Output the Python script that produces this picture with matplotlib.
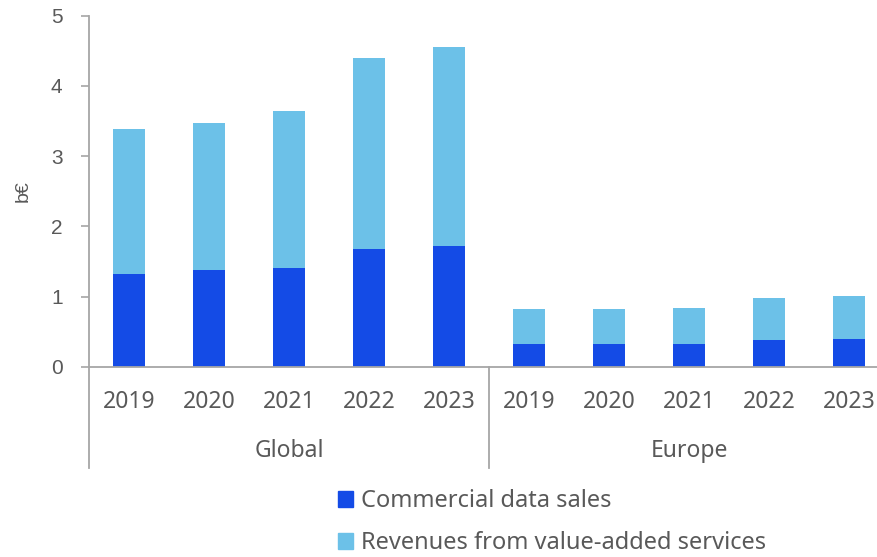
import matplotlib
matplotlib.use("Agg")
import matplotlib.pyplot as plt
from matplotlib.patches import Patch
from matplotlib.lines import Line2D
import numpy as np

years = ["2019", "2020", "2021", "2022", "2023"]
regions = ["Global", "Europe"]
commercial_global = [1.32, 1.38, 1.40, 1.68, 1.72]
value_added_global = [2.07, 2.09, 2.24, 2.72, 2.83]
commercial_europe = [0.32, 0.32, 0.33, 0.38, 0.39]
value_added_europe = [0.50, 0.50, 0.51, 0.60, 0.62]

dark = "#144BE6"
light = "#6CC1E8"
grey = "#A6A6A6"
text = "#595959"

W, H = 878, 557
fig = plt.figure(figsize=(W / 100, H / 100), dpi=100)
# plot area: x from 89px (10 slots of 80px), y zero at 366.7px, 5 at 15.7px
ax = fig.add_axes([89 / W, (H - 366.7) / H, 800 / W, 351 / H])

commercial = commercial_global + commercial_europe
value_added = value_added_global + value_added_europe
x = np.arange(len(commercial))
ax.bar(x, commercial, width=0.4, color=dark, zorder=2)
ax.bar(x, value_added, width=0.4, bottom=commercial, color=light, zorder=2)

ax.set_xlim(-0.5, 9.5)
ax.set_ylim(0, 5)
ax.set_yticks(range(6))
ax.tick_params(axis="y", direction="out", length=6, width=1.2, color=grey,
	pad=13, labelsize=15, labelcolor=text)
for lab in ax.get_yticklabels():
	lab.set_family("Liberation Sans")

ax.set_xticks(x)
ax.set_xticklabels(years * 2)
ax.tick_params(axis="x", length=0, pad=17, labelsize=16.5, labelcolor=text)
for lab in ax.get_xticklabels():
	lab.set_family("Noto Sans")

ax.set_ylabel("b\u20ac", fontsize=14, color=text, family="Liberation Sans",
	labelpad=14)

for s in ["top", "right"]:
	ax.spines[s].set_visible(False)
for s in ["left", "bottom"]:
	ax.spines[s].set_color(grey)
	ax.spines[s].set_linewidth(1.3)

# group divider lines under the axis
drop = -(468 - 366.7) / 351
trans = ax.get_xaxis_transform()
for xd in [-0.5, 4.5]:
	ax.add_line(Line2D([xd, xd], [0, drop], transform=trans, color=grey,
		lw=1.3, clip_on=False))

for i, name in enumerate(regions):
	ax.text(2 + 5 * i, -0.24, name, transform=trans, ha="center", va="center",
		fontsize=16.5, color=text, family="Noto Sans")

handles = [Patch(color=dark, label="Commercial data sales"),
	Patch(color=light, label="Revenues from value-added services")]
leg = fig.legend(handles=handles, loc="upper left",
	bbox_to_anchor=(338 / W, 1 - 489 / H), frameon=False, ncol=1,
	fontsize=17, handlelength=0.64, handleheight=0.64, handletextpad=0.34,
	labelspacing=0.78, borderpad=0, borderaxespad=0)
for t in leg.get_texts():
	t.set_color(text)
	t.set_family("Noto Sans")

fig.savefig("out.png", dpi=100)
